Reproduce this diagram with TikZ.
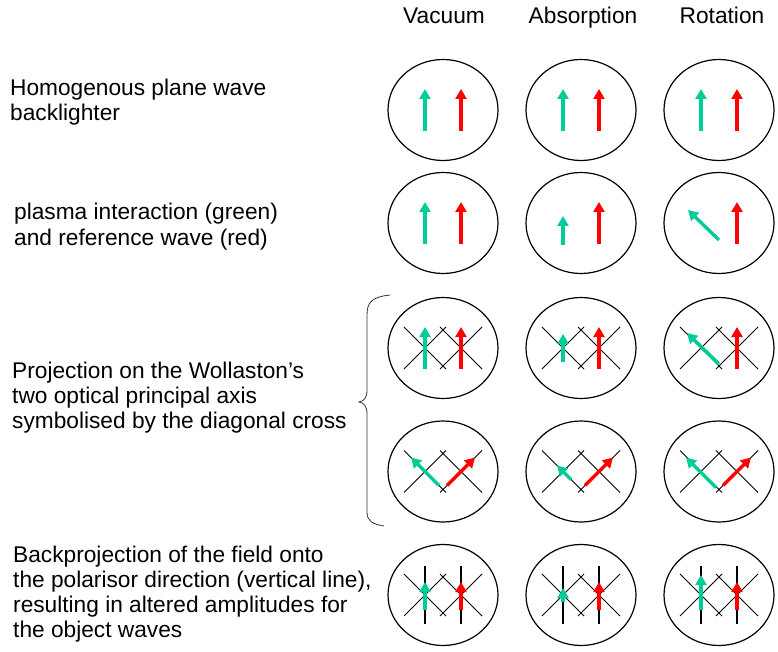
\documentclass[tikz,border=0pt]{standalone}
\usepackage{fontspec}
\setmainfont{Liberation Sans}
\usepackage{xcolor}
\usepackage{tikz}
\usetikzlibrary{shapes.geometric, arrows.meta}

\definecolor{objgreen}{RGB}{0,204,153}
\definecolor{refred}{RGB}{255,0,0}

\begin{document}
\begin{tikzpicture}[x=1pt,y=-1pt,node distance=138pt,
    wave/.style={draw,ellipse,inner sep=0pt,minimum width=110pt,minimum height=101pt,line width=1.2pt},
    objwave/.style={-{Triangle[length=10pt,width=11pt]},line width=3.4pt,draw=objgreen},
    refwave/.style={-{Triangle[length=10pt,width=11pt]},line width=3.4pt,draw=refred},
    axis/.style={line width=0.9pt},
    pol/.style={line width=1.1pt},
    caption/.style={inner sep=0pt,font=\fontsize{22.7}{25}\selectfont},
    note/.style={caption,align=left,anchor=base west}]
    \useasboundingbox (0,0) rectangle (778,652);

    % column headers
    \node[caption,anchor=base] (vac) at (444,24) {Vacuum};
    \node[caption,anchor=base] (abs) at (583,24) {Absorption};
    \node[caption,anchor=base] (rot) at (722,24) {Rotation};

    % row texts (base = last line)
    \node[note] (hpw) at (10,121) {Homogenous plane wave\\backlighter};
    \node[note] (pir) at (14,245) {plasma interaction (green)\\and reference wave (red)};
    \node[note] (prj) at (12,428) {Projection on the Wollaston’s\\two optical principal axis\\symbolised by the diagonal cross};
    \node[note] (bpr) at (13,637) {Backprojection of the field onto\\the polarisor direction (vertical line),\\resulting in altered amplitudes for\\the object waves};

    % brace
    \draw[line width=0.8pt,black!80] (390,295) .. controls (372,297) and (367,302) .. (367,315) -- (367,390)
        .. controls (367,398) and (364,401) .. (359,402) .. controls (364,403) and (367,406) .. (367,414)
        -- (367,512) .. controls (367,521) and (372,524) .. (384,526);

    % ellipses
    \node[wave] (v1) at (443,110) {};
    \node[wave] (a1) [right of=v1] {};
    \node[wave] (r1) [right of=a1] {};
    \node[wave] (v2) at (443,223) {};
    \node[wave] (a2) [right of=v2] {};
    \node[wave] (r2) [right of=a2] {};
    \node[wave] (v3) at (443,348) {};
    \node[wave] (a3) [right of=v3] {};
    \node[wave] (r3) [right of=a3] {};
    \node[wave] (v4) at (443,471.5) {};
    \node[wave] (a4) [right of=v4] {};
    \node[wave] (r4) [right of=a4] {};
    \node[wave] (v5) at (443,595) {};
    \node[wave] (a5) [right of=v5] {};
    \node[wave] (r5) [right of=a5] {};

    % Wollaston axes
    \draw[axis] ([shift={(-39,-21)}]v3.center) -- ++(42,42) ++(-42,0) -- ++(42,-42) ++(-6,0) -- ++(42,42) ++(-42,0) -- ++(42,-42);
    \draw[axis] ([shift={(-39,-21)}]a3.center) -- ++(42,42) ++(-42,0) -- ++(42,-42) ++(-6,0) -- ++(42,42) ++(-42,0) -- ++(42,-42);
    \draw[axis] ([shift={(-39,-21)}]r3.center) -- ++(42,42) ++(-42,0) -- ++(42,-42) ++(-6,0) -- ++(42,42) ++(-42,0) -- ++(42,-42);
    \draw[axis] ([shift={(-39,-21)}]v4.center) -- ++(42,42) ++(-42,0) -- ++(42,-42) ++(-6,0) -- ++(42,42) ++(-42,0) -- ++(42,-42);
    \draw[axis] ([shift={(-39,-21)}]a4.center) -- ++(42,42) ++(-42,0) -- ++(42,-42) ++(-6,0) -- ++(42,42) ++(-42,0) -- ++(42,-42);
    \draw[axis] ([shift={(-39,-21)}]r4.center) -- ++(42,42) ++(-42,0) -- ++(42,-42) ++(-6,0) -- ++(42,42) ++(-42,0) -- ++(42,-42);
    \draw[axis] ([shift={(-39,-21)}]v5.center) -- ++(42,42) ++(-42,0) -- ++(42,-42) ++(-6,0) -- ++(42,42) ++(-42,0) -- ++(42,-42);
    \draw[axis] ([shift={(-39,-21)}]a5.center) -- ++(42,42) ++(-42,0) -- ++(42,-42) ++(-6,0) -- ++(42,42) ++(-42,0) -- ++(42,-42);
    \draw[axis] ([shift={(-39,-21)}]r5.center) -- ++(42,42) ++(-42,0) -- ++(42,-42) ++(-6,0) -- ++(42,42) ++(-42,0) -- ++(42,-42);

    % polarisor lines
    \draw[pol] ([shift={(-18,-29)}]v5.center) -- ++(0,58) ([shift={(18,-29)}]v5.center) -- ++(0,58);
    \draw[pol] ([shift={(-18,-29)}]a5.center) -- ++(0,58) ([shift={(18,-29)}]a5.center) -- ++(0,58);
    \draw[pol] ([shift={(-18,-29)}]r5.center) -- ++(0,58) ([shift={(18,-29)}]r5.center) -- ++(0,58);

    % backlighter
    \draw[objwave] ([shift={(-18,21)}]v1.center) -- ++(0,-42);
    \draw[refwave] ([shift={(18,21)}]v1.center) -- ++(0,-42);
    \draw[objwave] ([shift={(-18,21)}]a1.center) -- ++(0,-42);
    \draw[refwave] ([shift={(18,21)}]a1.center) -- ++(0,-42);
    \draw[objwave] ([shift={(-18,21)}]r1.center) -- ++(0,-42);
    \draw[refwave] ([shift={(18,21)}]r1.center) -- ++(0,-42);

    % plasma interaction
    \draw[objwave] ([shift={(-18,21)}]v2.center) -- ++(0,-42);
    \draw[refwave] ([shift={(18,21)}]v2.center) -- ++(0,-42);
    \draw[objwave] ([shift={(-18,22)}]a2.center) -- ++(0,-29);
    \draw[refwave] ([shift={(18,21)}]a2.center) -- ++(0,-42);
    \draw[objwave] ([shift={(0,17)}]r2.center) -- ++(-31,-30);
    \draw[refwave] ([shift={(18,21)}]r2.center) -- ++(0,-42);

    % projection
    \draw[objwave] ([shift={(-18,21)}]v3.center) -- ++(0,-42);
    \draw[refwave] ([shift={(18,21)}]v3.center) -- ++(0,-42);
    \draw[objwave] ([shift={(-18,14)}]a3.center) -- ++(0,-28);
    \draw[refwave] ([shift={(18,21)}]a3.center) -- ++(0,-42);
    \draw[objwave] ([shift={(0,16)}]r3.center) -- ++(-32,-31);
    \draw[refwave] ([shift={(18,21)}]r3.center) -- ++(0,-42);
    \draw[objwave] ([shift={(-4,14)}]v4.center) -- ++(-28,-28);
    \draw[refwave] ([shift={(4,14)}]v4.center) -- ++(28,-28);
    \draw[objwave] ([shift={(-10,8)}]a4.center) -- ++(-14,-14);
    \draw[refwave] ([shift={(4,14)}]a4.center) -- ++(28,-28);
    \draw[objwave] ([shift={(-3,16)}]r4.center) -- ++(-30,-30);
    \draw[refwave] ([shift={(4,14)}]r4.center) -- ++(28,-28);

    % backprojection
    \draw[objwave] ([shift={(-18,15)}]v5.center) -- ++(0,-28);
    \draw[refwave] ([shift={(18,15)}]v5.center) -- ++(0,-28);
    \draw[objwave] ([shift={(-18,7)}]a5.center) -- ++(0,-14);
    \draw[refwave] ([shift={(18,15)}]a5.center) -- ++(0,-28);
    \draw[objwave] ([shift={(-18,15)}]r5.center) -- ++(0,-35);
    \draw[refwave] ([shift={(18,15)}]r5.center) -- ++(0,-28);
\end{tikzpicture}
\end{document}
